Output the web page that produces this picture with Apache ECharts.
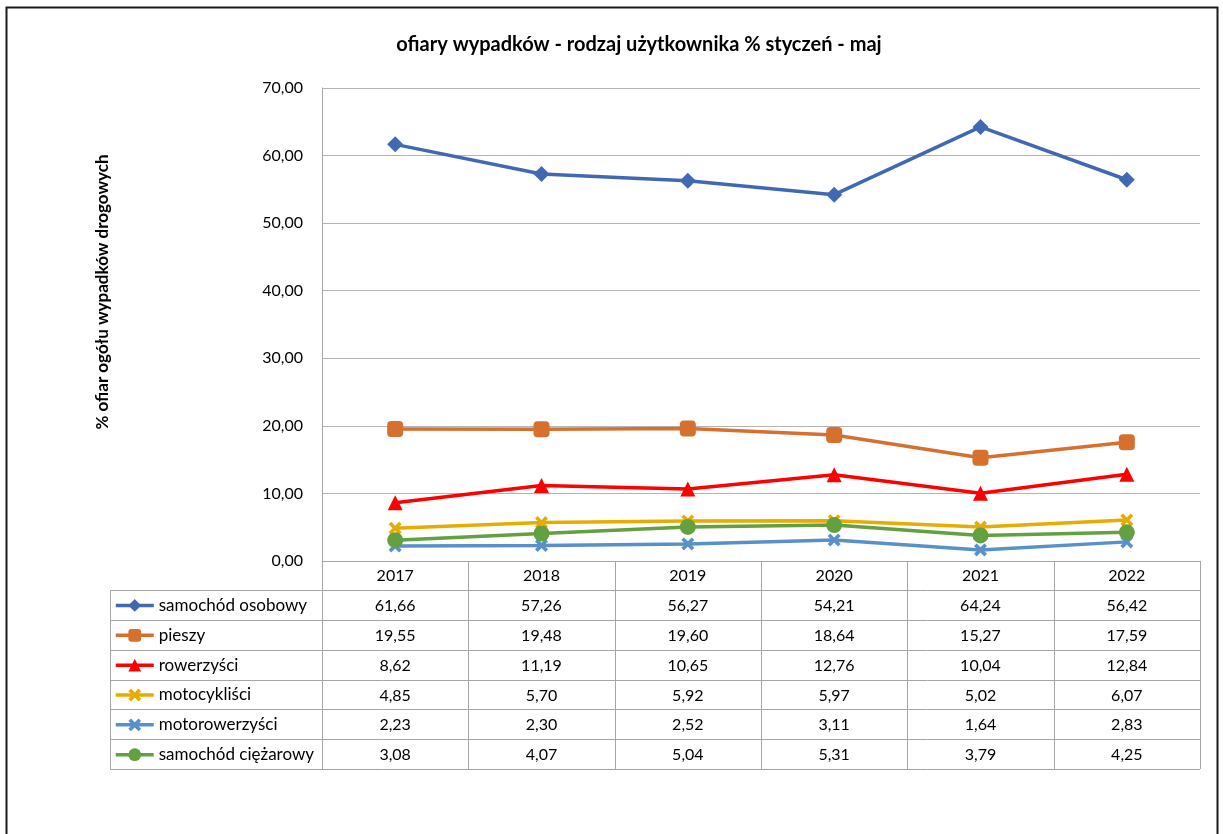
<!DOCTYPE html>
<html>
<head>
<meta charset="utf-8">
<script src="https://cdn.jsdelivr.net/npm/echarts@6/dist/echarts.min.js"></script>
<style>
  html, body { margin: 0; background: #fff; }
  #chart { width: 1223px; height: 834px; }
</style>
</head>
<body>
<div id="chart"></div>
<script>
// data
const years = ["2017", "2018", "2019", "2020", "2021", "2022"];
const seriesNames = [
  "samochód osobowy",
  "pieszy",
  "rowerzyści",
  "motocykliści",
  "motorowerzyści",
  "samochód ciężarowy",
];
const samochodOsobowy = [61.66, 57.26, 56.27, 54.21, 64.24, 56.42];
const pieszy = [19.55, 19.48, 19.6, 18.64, 15.27, 17.59];
const rowerzysci = [8.62, 11.19, 10.65, 12.76, 10.04, 12.84];
const motocyklisci = [4.85, 5.7, 5.92, 5.97, 5.02, 6.07];
const motorowerzysci = [2.23, 2.3, 2.52, 3.11, 1.64, 2.83];
const samochodCiezarowy = [3.08, 4.07, 5.04, 5.31, 3.79, 4.25];

const FONT = "Lato, 'Noto Sans', sans-serif";
const xMark = "path://M2,0 L5,3 L8,0 L10,2 L7,5 L10,8 L8,10 L5,7 L2,10 L0,8 L3,5 L0,2 Z";

const styles = [
  { color: "#4169b3", symbol: "diamond", size: 16 },
  { color: "#d5702f", symbol: "roundRect", size: 16 },
  { color: "#ff0000", symbol: "triangle", size: 15 },
  { color: "#e6ac00", symbol: xMark, size: 13 },
  { color: "#5891c9", symbol: xMark, size: 13 },
  { color: "#63a03f", symbol: "circle", size: 16 },
];
const allData = [samochodOsobowy, pieszy, rowerzysci, motocyklisci, motorowerzysci, samochodCiezarowy];

const fmt = (v) => v.toFixed(2).replace(".", ",");

const gridLeft = 322, gridRight = 1200, gridTop = 88, gridBottom = 561;
const rowTop = 590, rowH = 29.85, tableLeft = 110;
const lineColor = "#a6a6a6";

const chart = echarts.init(document.getElementById("chart"));

// one legend per table row so each key sits in its own cell
const legends = seriesNames.map((name, r) => ({
  orient: "vertical",
  left: 114,
  top: rowTop + r * rowH + rowH / 2 - 8,
  itemWidth: 38,
  itemHeight: 16,
  padding: 0,
  selectedMode: false,
  data: [name],
  lineStyle: { width: 3.5 },
  textStyle: { fontFamily: FONT, fontSize: 17, color: "#000" },
}));

const option = {
  backgroundColor: "#fff",
  animation: false,
  title: {
    text: "ofiary wypadków - rodzaj użytkownika % styczeń - maj",
    left: 634,
    top: 30,
    textAlign: "center",
    textStyle: { fontFamily: FONT, fontSize: 20, fontWeight: "bold", color: "#000" },
  },
  legend: legends,
  grid: {
    left: gridLeft,
    right: 1223 - gridRight,
    top: gridTop,
    bottom: 834 - gridBottom,
  },
  xAxis: {
    type: "category",
    data: years,
    boundaryGap: true,
    axisLine: { lineStyle: { color: lineColor, width: 1 } },
    axisTick: { show: false },
    axisLabel: { fontFamily: FONT, fontSize: 16, color: "#000", margin: 7 },
  },
  yAxis: {
    type: "value",
    min: 0,
    max: 70,
    interval: 10,
    axisLine: { show: true, lineStyle: { color: lineColor } },
    axisTick: { show: false },
    splitLine: { lineStyle: { color: "#b3b3b3" } },
    axisLabel: { fontFamily: FONT, fontSize: 16, color: "#000", margin: 19, formatter: fmt },
  },
  series: seriesNames.map((name, i) => ({
    name,
    type: "line",
    data: allData[i],
    symbol: styles[i].symbol,
    symbolSize: styles[i].size,
    lineStyle: { color: styles[i].color, width: 3.5 },
    itemStyle: { color: styles[i].color },
    z: 2 + i,
  })),
};

chart.setOption(option);

// table built from the data arrays
const graphics = [];
const tableBottom = rowTop + rowH * seriesNames.length;
graphics.push({
  type: "rect",
  shape: { x: 6.5, y: 7.5, width: 1211, height: 900 },
  style: { fill: null, stroke: "#1a1a1a", lineWidth: 2 },
  silent: true,
});
graphics.push({
  type: "text",
  x: 103,
  y: 292,
  rotation: Math.PI / 2,
  style: {
    text: "% ofiar ogółu wypadków drogowych",
    fontFamily: FONT,
    fontSize: 17,
    fontWeight: "bold",
    fill: "#000",
    align: "center",
    verticalAlign: "middle",
  },
});
for (let r = 0; r <= seriesNames.length; r++) {
  const y = Math.round(rowTop + r * rowH) + 0.5;
  graphics.push({
    type: "line",
    shape: { x1: tableLeft, y1: y, x2: gridRight, y2: y },
    style: { stroke: lineColor, lineWidth: 1 },
  });
}
const colW = (gridRight - gridLeft) / years.length;
for (let c = 0; c <= years.length; c++) {
  const x = Math.round(gridLeft + c * colW) + 0.5;
  graphics.push({
    type: "line",
    shape: { x1: x, y1: gridBottom, x2: x, y2: tableBottom },
    style: { stroke: lineColor, lineWidth: 1 },
  });
}
graphics.push({
  type: "line",
  shape: { x1: tableLeft + 0.5, y1: rowTop, x2: tableLeft + 0.5, y2: tableBottom },
  style: { stroke: lineColor, lineWidth: 1 },
});
allData.forEach((vals, r) => {
  vals.forEach((v, c) => {
    const x = chart.convertToPixel({ xAxisIndex: 0 }, c);
    graphics.push({
      type: "text",
      x,
      y: rowTop + r * rowH + rowH / 2 + 1,
      style: {
        text: fmt(v),
        fontFamily: FONT,
        fontSize: 16,
        fill: "#000",
        align: "center",
        verticalAlign: "middle",
      },
    });
  });
});
chart.setOption({ graphic: graphics });
</script>
</body>
</html>
